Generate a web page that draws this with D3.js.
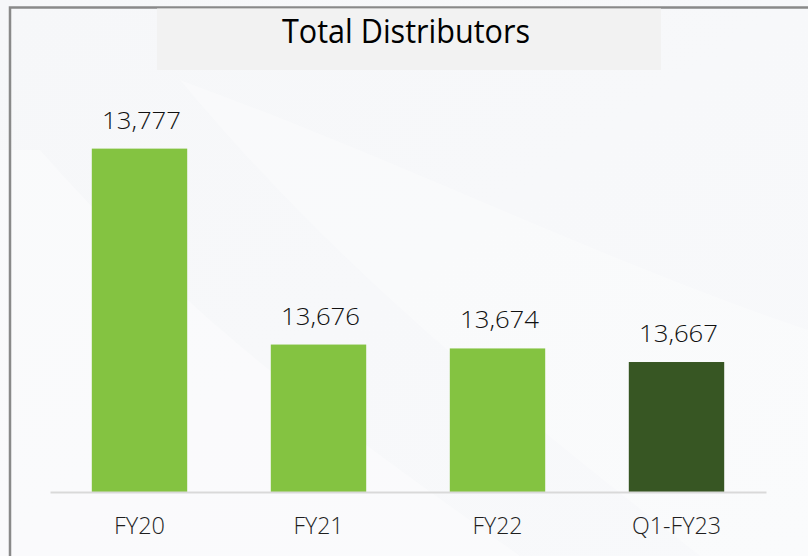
<!DOCTYPE html>
<html><head><meta charset="utf-8">
<script src="https://cdn.jsdelivr.net/npm/d3@7"></script>
<style>html,body{margin:0;padding:0;background:#f7f8fa;}svg{display:block;}</style>
</head><body>
<script>
const categories = ["FY20", "FY21", "FY22", "Q1-FY23"];
const values = [13777, 13676, 13674, 13667];
const barColors = ["#84c341", "#84c341", "#84c341", "#375623"];
const title = "Total Distributors";

const W = 808, H = 556;
const svg = d3.select("body").append("svg").attr("width", W).attr("height", H);

// background
const defs = svg.append("defs");
const g1 = defs.append("linearGradient").attr("id","bg").attr("x1","0").attr("y1","0").attr("x2","1").attr("y2","1");
g1.append("stop").attr("offset","0").attr("stop-color","#f6f7f9");
g1.append("stop").attr("offset","1").attr("stop-color","#f8f9fb");
svg.append("rect").attr("width",W).attr("height",H).attr("fill","url(#bg)");
svg.append("path").attr("d","M40,150 C200,330 330,420 520,556 L808,556 L808,600 L0,600 L0,150 Z").attr("fill","#ffffff").attr("opacity",0.35);
svg.append("path").attr("d","M180,80 C400,160 600,260 808,330 L808,556 L700,556 C500,400 330,260 180,80 Z").attr("fill","#ffffff").attr("opacity",0.3);

// frame
svg.append("path").attr("d","M10,556 L10,7.5 L808,7.5").attr("fill","none").attr("stroke","#898989").attr("stroke-width",2.5);

// title box
svg.append("rect").attr("x",157).attr("y",8.5).attr("width",504).attr("height",61.5).attr("fill","#f2f2f2");
svg.append("text").attr("x",406).attr("y",42.5).attr("text-anchor","middle")
  .attr("font-family","Open Sans, sans-serif").attr("font-size",32).attr("fill","#000")
  .attr("textLength",248).attr("lengthAdjust","spacingAndGlyphs").text(title);

const x = d3.scaleBand().domain(categories).range([50, 766]).paddingInner(0.467).paddingOuter(0.2335);
const y = d3.scaleLinear().domain([13600, 13800]).range([492, 104]);

const fmt = d3.format(",");

svg.append("g").selectAll("rect").data(values).join("rect")
  .attr("x",(d,i)=>x(categories[i])).attr("width",x.bandwidth())
  .attr("y",d=>y(d)).attr("height",d=>y(13600)-y(d))
  .attr("fill",(d,i)=>barColors[i]);

// baseline axis
const axis = svg.append("g").attr("transform","translate(0,492)").call(d3.axisBottom(x).tickSize(0).tickPadding(0));
axis.select(".domain").attr("stroke","#d9d9d9").attr("stroke-width",2);
axis.selectAll(".tick text").attr("y",42).attr("dy",0)
  .attr("font-family","Open Sans, sans-serif").attr("font-size",24).attr("font-weight",300).attr("fill","#1f1f1f")
  .attr("textLength",d=>d==="Q1-FY23"?89:(d==="FY20"?51:50)).attr("lengthAdjust","spacingAndGlyphs");

// value labels
svg.append("g").selectAll("text").data(values).join("text")
  .attr("x",(d,i)=>x(categories[i])+x.bandwidth()/2+2).attr("y",d=>y(d)-20)
  .attr("text-anchor","middle").attr("font-family","Open Sans, sans-serif").attr("font-size",24.5).attr("font-weight",300)
  .attr("fill","#111").attr("textLength",79).attr("lengthAdjust","spacingAndGlyphs")
  .text(d=>fmt(d));
</script>
</body></html>
